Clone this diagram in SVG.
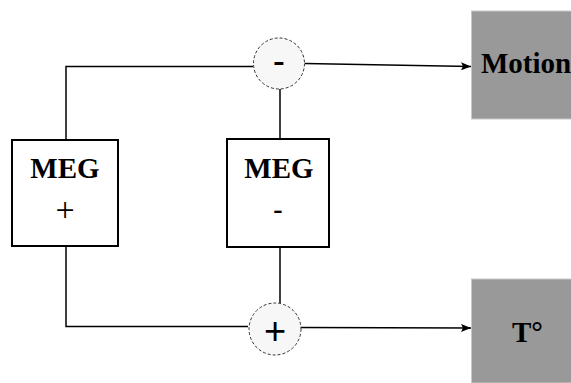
<svg xmlns="http://www.w3.org/2000/svg" width="571" height="383" viewBox="0 0 571 383">
<style>
.line{stroke:#000;stroke-width:1.5;fill:none}
.box{fill:#fff;stroke:#000;stroke-width:2}
.out{fill:#999999;stroke:#c8c8c8;stroke-width:1}
.sum{fill:#f7f7f7;stroke:#333;stroke-width:1;stroke-dasharray:3 2}
.lbl{font-family:"Liberation Serif","Times New Roman",serif;font-weight:bold;fill:#000}
.c{text-anchor:middle}
</style>
<defs>
<marker id="ah" viewBox="0 0 10 8" refX="10" refY="4" markerWidth="10" markerHeight="8" markerUnits="userSpaceOnUse" orient="auto">
<path d="M0,0 L10,4 L0,8 L2,4 Z" fill="#000"/>
</marker>
</defs>
<g id="connectors">
<polyline class="line" points="66,140 66,66.5 253,66.5"/>
<polyline class="line" points="66,246 66,326.5 248,326.5"/>
<line class="line" x1="280" y1="89" x2="280" y2="139"/>
<line class="line" x1="280" y1="247" x2="280" y2="303"/>
<line class="line" x1="305" y1="63.5" x2="471" y2="66.5" marker-end="url(#ah)"/>
<line class="line" x1="301" y1="327.5" x2="471" y2="328" marker-end="url(#ah)"/>
</g>
<g id="meg-plus">
<rect class="box" x="12" y="140" width="106" height="106"/>
<text class="lbl c" x="65" y="178" font-size="29">MEG</text>
<text class="c" x="65" y="221" font-size="34" font-family="Liberation Serif, serif" fill="#000">+</text>
</g>
<g id="meg-minus">
<rect class="box" x="227" y="139" width="102" height="108"/>
<text class="lbl c" x="279" y="178" font-size="29">MEG</text>
<text class="lbl c" x="278" y="218" font-size="28">-</text>
</g>
<g id="sum-minus">
<circle class="sum" cx="279" cy="63.5" r="25.5"/>
<text class="lbl c" x="279" y="72" font-size="34">-</text>
</g>
<g id="sum-plus">
<circle class="sum" cx="275" cy="329" r="26"/>
<text class="c" x="275" y="344" font-size="38" font-family="Liberation Sans, Arial, sans-serif" fill="#000">+</text>
</g>
<g id="motion">
<rect class="out" x="471.5" y="11" width="100" height="108"/>
<text class="lbl" x="481" y="73" font-size="29">Motion</text>
</g>
<g id="temp">
<rect class="out" x="471.5" y="279" width="100" height="104"/>
<text class="lbl" x="512" y="342" font-size="29">T°</text>
</g>
</svg>
